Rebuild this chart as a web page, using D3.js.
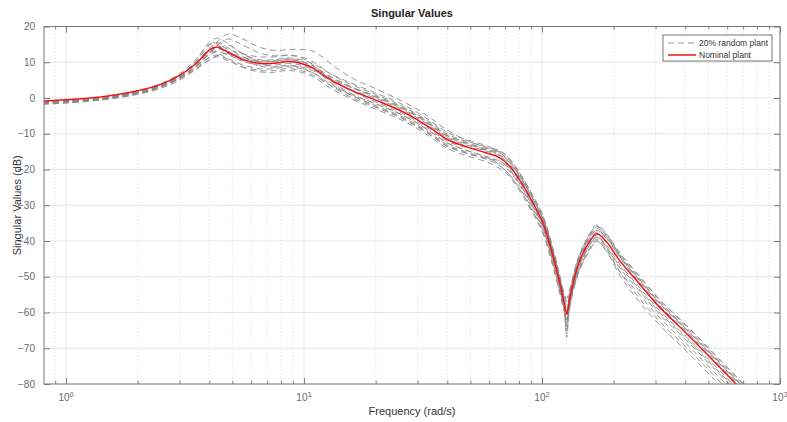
<!DOCTYPE html>
<html>
<head>
<meta charset="utf-8">
<script src="https://cdn.jsdelivr.net/npm/d3@7"></script>
<style>
  body { margin: 0; background: #fff; }
  text { font-family: "Liberation Sans", Arial, sans-serif; }
</style>
</head>
<body>
<div id="chart"></div>
<script>
// frequency grid (rad/s) shared by every curve
var freq = [0.8, 1, 1.4, 2, 2.5, 3, 3.5, 4, 4.3, 4.8, 5.5, 6.5, 7.5, 8.5, 9.6, 11, 13, 16, 20, 25,
  30, 35, 40, 48, 58, 66, 73, 81, 92, 101, 111, 119, 124, 127, 130, 136, 144, 159, 170, 187,
  212, 250, 312, 400, 493, 660, 720];

// nominal plant, dB
var nominal = [-0.85, -0.5, 0.3, 2.0, 3.8, 6.3, 9.5, 13.4, 14.3, 12.8, 10.8, 9.7, 9.7, 10.2, 9.8, 8.2, 5.0, 2.0, -0.6, -3.3,
  -6.1, -9.0, -11.6, -13.6, -15.3, -16.6, -19.0, -23.2, -29.6, -35.0, -44.0, -52.0, -57.5, -60.5, -57.0, -51.0, -45.5, -40.0, -38.0, -40.3,
  -45.5, -51.1, -58.5, -65.5, -71.6, -80.3, -82.8];

// 20% random plants, dB
var random1 = [-1.25, -0.9, -0.1, 1.6, 3.5, 6.3, 9.6, 13.2, 15.6, 17.9, 16.6, 14.2, 13.3, 13.5, 13.6, 13.0, 9.5, 5.5, 2.6, -0.4,
  -3.2, -6.2, -9.0, -11.8, -13.8, -15.2, -17.6, -21.8, -28.4, -33.8, -42.8, -50.8, -55.5, -58.0, -55.8, -50.0, -44.5, -39.0, -37.0, -39.3,
  -44.5, -50.1, -57.5, -64.5, -70.6, -79.3, -81.8];
var random2 = [-1.45, -1.1, -0.3, 1.4, 3.2, 5.8, 8.8, 12.3, 14.6, 16.5, 14.9, 12.6, 11.8, 12.0, 11.6, 10.0, 6.6, 3.6, 1.0, -1.8,
  -4.6, -7.5, -10.1, -12.1, -13.6, -14.8, -17.0, -21.2, -27.6, -33.0, -42.0, -50.0, -56.5, -63.0, -56.0, -49.5, -44.0, -38.3, -36.0, -38.6,
  -43.8, -49.6, -57.0, -64.0, -70.1, -78.8, -81.3];
var random3 = [-1.15, -0.8, 0.0, 1.8, 3.7, 6.3, 9.7, 13.9, 15.5, 14.0, 11.6, 10.2, 10.2, 10.7, 10.3, 8.9, 5.9, 3.0, 0.4, -2.3,
  -5.1, -8.0, -10.6, -12.6, -14.3, -15.8, -20.0, -24.2, -30.6, -36.0, -45.0, -53.0, -59.5, -66.0, -59.0, -52.0, -46.5, -41.0, -39.0, -41.3,
  -46.5, -52.1, -59.5, -66.5, -72.6, -81.3, -83.8];
var random4 = [-1.65, -1.3, -0.4, 1.5, 3.5, 6.3, 9.8, 13.0, 12.6, 11.0, 9.3, 8.2, 8.2, 8.7, 8.3, 6.9, 3.8, 0.9, -1.6, -4.3,
  -7.1, -10.0, -12.6, -14.6, -16.5, -18.6, -21.5, -25.5, -31.6, -37.0, -46.0, -54.0, -58.0, -59.0, -57.5, -52.5, -47.5, -42.0, -39.5, -42.3,
  -48.5, -55.1, -62.5, -69.5, -75.6, -84.3, -86.8];
var random5 = [-1.35, -1.0, -0.2, 1.5, 3.3, 5.8, 8.8, 11.3, 12.0, 10.8, 8.6, 7.3, 7.2, 7.7, 7.3, 5.8, 2.6, -0.4, -3.1, -5.8,
  -8.6, -11.5, -14.1, -16.1, -17.8, -19.6, -22.0, -26.2, -32.6, -38.0, -47.0, -55.0, -59.5, -61.0, -58.5, -53.0, -48.0, -42.5, -40.0, -43.0,
  -49.5, -56.1, -63.5, -70.5, -76.6, -85.3, -87.8];
var random6 = [-1.05, -0.7, 0.2, 2.0, 4.0, 6.8, 10.6, 15.0, 14.8, 13.0, 11.4, 10.5, 10.5, 11.0, 10.5, 8.8, 5.2, 1.8, -1.1, -3.8,
  -6.6, -9.5, -12.1, -13.8, -14.5, -15.3, -17.5, -21.7, -28.1, -33.5, -42.5, -50.5, -54.5, -56.0, -54.0, -49.5, -44.0, -38.5, -36.5, -38.8,
  -44.5, -50.6, -58.0, -65.0, -71.1, -79.8, -82.3];
var random7 = [-1.55, -1.2, -0.4, 1.3, 3.1, 5.6, 8.8, 12.6, 13.8, 12.4, 10.3, 9.2, 9.2, 9.7, 9.3, 7.8, 4.8, 2.2, -0.1, -2.8,
  -5.6, -8.5, -11.1, -13.1, -14.8, -16.1, -18.5, -22.7, -29.1, -34.5, -43.5, -51.5, -58.0, -64.0, -57.5, -50.5, -45.0, -39.5, -37.5, -39.3,
  -43.5, -49.1, -56.5, -63.5, -69.6, -78.3, -80.8];
var random8 = [-1.75, -1.4, -0.6, 1.0, 2.7, 5.0, 7.9, 10.6, 11.5, 10.4, 8.8, 7.7, 7.7, 8.2, 7.8, 6.3, 3.4, 0.6, -2.1, -4.8,
  -7.6, -10.5, -13.1, -15.1, -16.8, -18.1, -20.5, -24.7, -31.1, -36.5, -45.5, -53.5, -58.5, -62.0, -58.5, -52.5, -47.0, -41.0, -38.5, -41.8,
  -47.5, -53.1, -60.5, -67.5, -73.6, -82.3, -84.8];
var random9 = [-1.25, -0.9, -0.1, 1.7, 3.6, 6.4, 10.1, 14.8, 16.8, 15.2, 12.4, 10.7, 10.7, 11.2, 10.8, 9.5, 6.7, 4.0, 1.4, -1.3,
  -4.1, -7.0, -9.6, -11.6, -13.3, -15.1, -18.0, -22.2, -28.6, -34.0, -43.0, -51.0, -56.5, -60.0, -56.0, -50.0, -44.0, -37.8, -35.5, -38.0,
  -44.0, -50.1, -57.5, -64.5, -70.6, -79.3, -81.8];
var random10 = [-1.45, -1.1, -0.3, 1.3, 3.0, 5.4, 8.3, 11.5, 13.4, 14.8, 12.5, 9.8, 8.7, 9.0, 8.6, 6.9, 3.4, 0.0, -2.6, -5.3,
  -8.1, -11.0, -13.6, -15.4, -16.8, -17.6, -19.5, -23.7, -30.1, -35.5, -44.5, -52.5, -59.5, -67.0, -59.0, -51.5, -46.0, -40.3, -38.0, -40.3,
  -45.5, -51.1, -58.5, -65.5, -71.6, -80.3, -82.8];
var random11 = [-1.15, -0.8, 0.0, 1.7, 3.5, 5.9, 8.8, 12.2, 13.0, 12.0, 10.6, 9.6, 9.7, 10.2, 9.8, 8.4, 5.6, 2.8, 0.2, -2.5,
  -5.3, -8.2, -10.8, -12.8, -14.5, -15.8, -18.0, -22.2, -28.6, -34.0, -43.0, -51.0, -55.0, -57.0, -55.0, -50.0, -44.5, -39.0, -37.0, -39.1,
  -44.3, -49.9, -57.3, -64.3, -70.4, -79.1, -81.6];
var random12 = [-1.65, -1.3, -0.5, 1.3, 3.3, 6.2, 10.2, 15.5, 15.2, 13.6, 12.4, 11.5, 11.5, 11.9, 11.4, 9.2, 4.8, 1.0, -1.6, -4.3,
  -7.1, -10.0, -12.6, -14.6, -16.3, -17.6, -20.0, -24.2, -30.6, -36.0, -45.0, -53.0, -59.0, -65.0, -59.5, -52.0, -46.5, -41.0, -39.0, -41.8,
  -47.0, -52.6, -60.0, -67.0, -73.1, -81.8, -84.3];
var random13 = [-1.35, -1.0, -0.2, 1.4, 3.1, 5.4, 8.1, 10.7, 11.8, 12.5, 11.0, 8.9, 8.7, 9.2, 8.8, 7.5, 5.2, 2.8, 0.6, -2.1,
  -4.9, -7.8, -10.4, -12.4, -14.1, -14.6, -17.0, -21.2, -27.6, -33.0, -42.0, -50.0, -56.5, -60.0, -55.5, -49.0, -43.5, -38.0, -36.0, -38.1,
  -43.3, -48.9, -56.3, -63.3, -69.4, -78.1, -80.6];
var random14 = [-1.55, -1.2, -0.4, 1.3, 3.1, 5.7, 9.0, 12.8, 14.0, 12.9, 11.2, 10.2, 10.2, 10.7, 10.2, 8.2, 4.2, 0.6, -2.4, -5.1,
  -7.9, -10.8, -13.4, -15.4, -17.1, -18.8, -21.5, -25.7, -32.1, -37.5, -46.5, -54.5, -59.5, -63.0, -59.5, -53.5, -48.0, -42.0, -40.0, -42.8,
  -48.5, -54.1, -61.5, -68.5, -74.6, -83.3, -85.8];

var randomPlants = [random1, random2, random3, random4, random5, random6, random7,
  random8, random9, random10, random11, random12, random13, random14];

var yTicks = [20, 10, 0, -10, -20, -30, -40, -50, -60, -70, -80];
var xMajor = [1, 10, 100, 1000];
var legendLabels = ["20% random plant", "Nominal plant"];

// svg size and plot area
var width = 787, height = 422;
var margin = {top: 26.5, right: 7, bottom: 38, left: 44};
var w = width - margin.left - margin.right;
var h = height - margin.top - margin.bottom;

var svg = d3.select("#chart").append("svg")
  .attr("width", width)
  .attr("height", height);

var g = svg.append("g")
  .attr("transform", "translate(" + margin.left + "," + margin.top + ")");

var x = d3.scaleLog().domain([0.808, 1000]).range([0, w]);
var y = d3.scaleLinear().domain([-80, 20]).range([h, 0]);

// minor log ticks
var xMinor = [];
[0.1, 1, 10, 100].forEach(function(dec) {
  for (var k = 2; k <= 9; k++) {
    var v = dec * k;
    if (v >= 0.808 && v < 1000) xMinor.push(v);
  }
});

// grid
g.append("g").selectAll("line").data(xMinor).join("line")
  .attr("x1", d => x(d)).attr("x2", d => x(d))
  .attr("y1", 0).attr("y2", h)
  .attr("stroke", "#e4e4e4").attr("stroke-dasharray", "1.5,2");

g.append("g").selectAll("line").data(xMajor).join("line")
  .attr("x1", d => x(d)).attr("x2", d => x(d))
  .attr("y1", 0).attr("y2", h)
  .attr("stroke", "#e6e6e6");

g.append("g").selectAll("line").data(yTicks).join("line")
  .attr("x1", 0).attr("x2", w)
  .attr("y1", d => y(d)).attr("y2", d => y(d))
  .attr("stroke", "#e6e6e6");

// curves
g.append("clipPath").attr("id", "clip")
  .append("rect").attr("width", w).attr("height", h);

var line = d3.line()
  .x((d, i) => x(freq[i]))
  .y(d => y(d))
  .curve(d3.curveCatmullRom.alpha(0.5));

var curves = g.append("g").attr("clip-path", "url(#clip)");

curves.selectAll("path.rand").data(randomPlants).join("path")
  .attr("class", "rand")
  .attr("d", line)
  .attr("fill", "none")
  .attr("stroke", "#8a8a8a")
  .attr("stroke-width", 0.9)
  .attr("stroke-dasharray", "6,4");

curves.append("path")
  .datum(nominal)
  .attr("d", line)
  .attr("fill", "none")
  .attr("stroke", "#f01515")
  .attr("stroke-width", 1.5);

// axes box with inward ticks
var axisColor = "#7a7a7a";

g.append("g").attr("transform", "translate(0," + h + ")")
  .call(d3.axisBottom(x).tickValues(xMinor).tickSize(-3).tickFormat(""))
  .call(a => a.select(".domain").remove());
g.append("g")
  .call(d3.axisTop(x).tickValues(xMinor).tickSize(-3).tickFormat(""))
  .call(a => a.select(".domain").remove());
g.append("g").attr("transform", "translate(0," + h + ")")
  .call(d3.axisBottom(x).tickValues(xMajor).tickSize(-6).tickFormat(""))
  .call(a => a.select(".domain").remove());
g.append("g")
  .call(d3.axisTop(x).tickValues(xMajor).tickSize(-6).tickFormat(""))
  .call(a => a.select(".domain").remove());

g.append("g")
  .call(d3.axisLeft(y).tickValues(yTicks).tickSize(-6).tickPadding(9).tickFormat(d3.format("d")))
  .call(a => a.select(".domain").remove());
g.append("g").attr("transform", "translate(" + w + ",0)")
  .call(d3.axisRight(y).tickValues(yTicks).tickSize(-6).tickFormat(""))
  .call(a => a.select(".domain").remove());

g.selectAll(".tick line").attr("stroke", axisColor);
g.selectAll(".tick text")
  .attr("fill", "#6a6a6a")
  .style("font-family", "'Liberation Sans', Arial, sans-serif")
  .style("font-size", "10px");

g.append("rect")
  .attr("width", w).attr("height", h)
  .attr("fill", "none")
  .attr("stroke", axisColor)
  .attr("stroke-width", 1);

// x tick labels 10^n
var xl = g.append("g").selectAll("text").data(xMajor).join("text")
  .attr("x", d => x(d))
  .attr("y", h + 17)
  .attr("text-anchor", "middle")
  .attr("fill", "#6a6a6a")
  .style("font-size", "10px");
xl.append("tspan").text("10");
xl.append("tspan")
  .attr("dy", -4)
  .style("font-size", "7.5px")
  .text(d => Math.round(Math.log10(d)));

// title and labels
svg.append("text")
  .attr("x", margin.left + w / 2).attr("y", 17)
  .attr("text-anchor", "middle")
  .attr("fill", "#222")
  .style("font-size", "11px")
  .style("font-weight", "bold")
  .text("Singular Values");

svg.append("text")
  .attr("x", margin.left + w / 2).attr("y", 415)
  .attr("text-anchor", "middle")
  .attr("fill", "#333")
  .style("font-size", "11px")
  .text("Frequency (rad/s)");

svg.append("text")
  .attr("transform", "translate(21," + (margin.top + h / 2) + ") rotate(-90)")
  .attr("text-anchor", "middle")
  .attr("fill", "#333")
  .style("font-size", "11px")
  .text("Singular Values (dB)");

// legend
var legend = svg.append("g").attr("transform", "translate(663,35)");
legend.append("rect")
  .attr("width", 109).attr("height", 26)
  .attr("fill", "#fff")
  .attr("stroke", "#555")
  .attr("stroke-width", 0.8);

legend.selectAll("line").data(legendLabels).join("line")
  .attr("x1", 5).attr("x2", 33)
  .attr("y1", (d, i) => 8 + i * 12).attr("y2", (d, i) => 8 + i * 12)
  .attr("stroke", (d, i) => i === 0 ? "#8a8a8a" : "#f01515")
  .attr("stroke-width", (d, i) => i === 0 ? 0.9 : 1.5)
  .attr("stroke-dasharray", (d, i) => i === 0 ? "6,4" : null);

legend.selectAll("text").data(legendLabels).join("text")
  .attr("x", 36)
  .attr("y", (d, i) => 11 + i * 12)
  .attr("fill", "#333")
  .style("font-size", "8.5px")
  .text(d => d);
</script>
</body>
</html>
